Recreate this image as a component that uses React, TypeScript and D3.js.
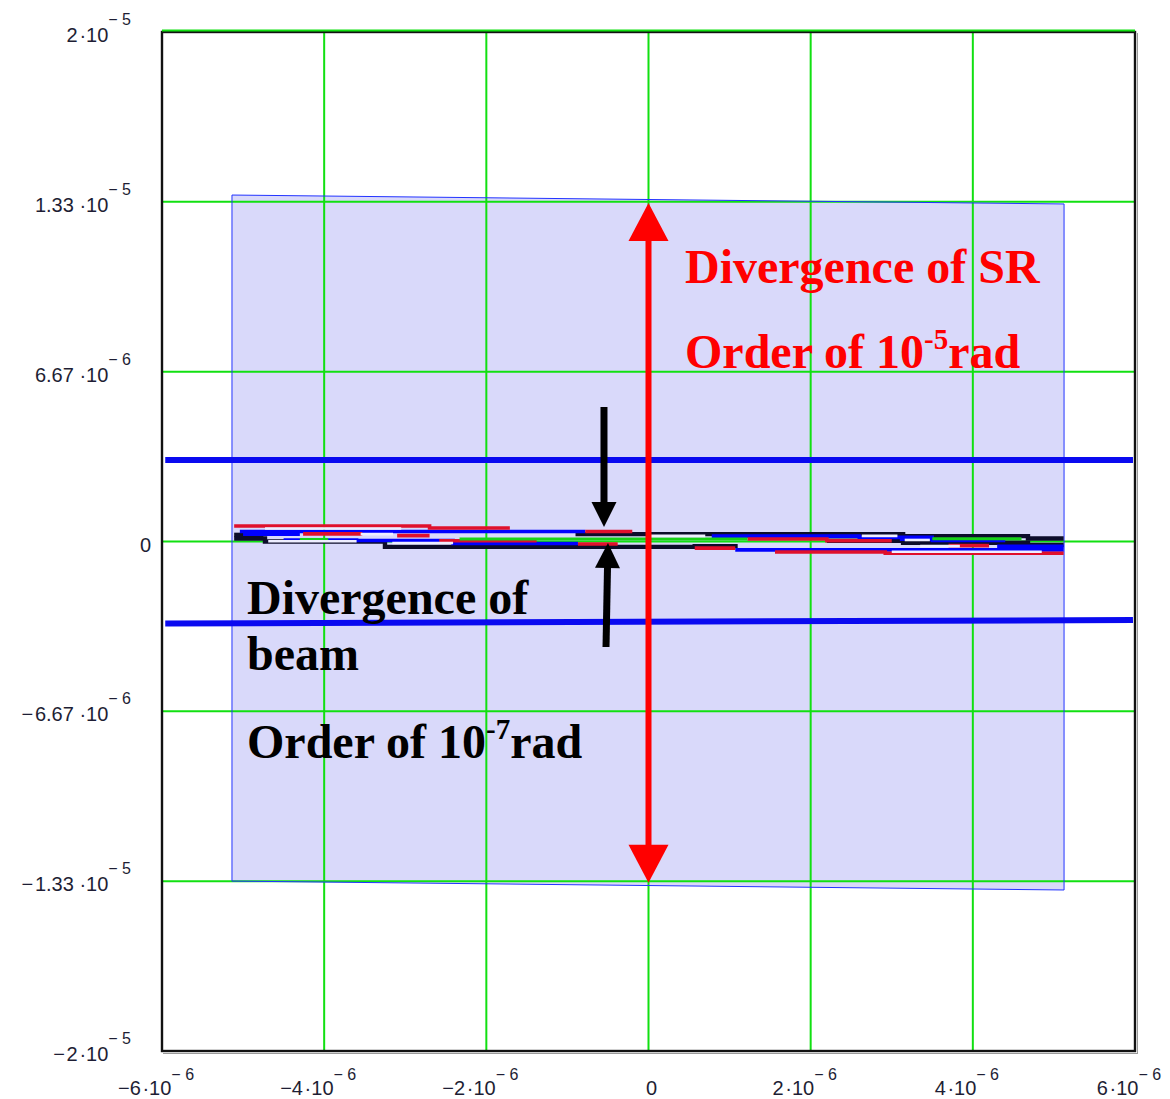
import React from "react";
import * as d3 from "d3";

// Axis ticks and their labels (mantissa · 10^exponent)
const xTicks = [-6e-6, -4e-6, -2e-6, 0, 2e-6, 4e-6, 6e-6];
const xTickMantissa = ["\u22126\u200a·10", "\u22124\u200a·10", "\u22122\u200a·10", "0", "2\u200a·10", "4\u200a·10", "6\u200a·10"];
const xTickExponent = ["\u2212 6", "\u2212 6", "\u2212 6", "", "\u2212 6", "\u2212 6", "\u2212 6"];

const yTicks = [2e-5, 1.3333e-5, 6.6667e-6, 0, -6.6667e-6, -1.3333e-5, -2e-5];
const yTickMantissa = ["2\u200a·10", "1.33 ·10", "6.67 ·10", "0", "\u2212\u200a6.67 ·10", "\u2212\u200a1.33 ·10", "\u2212\u200a2\u200a·10"];
const yTickExponent = ["\u2212 5", "\u2212 5", "\u2212 6", "", "\u2212 6", "\u2212 5", "\u2212 5"];

// Radiation cone (SR divergence) outline, rad
const coneX = [-5.137e-6, 5.125e-6, 5.125e-6, -5.137e-6];
const coneY = [13.6e-6, 13.25e-6, -13.68e-6, -13.33e-6];

// Beam envelope lines: [x0, y0, x1, y1], rad
const beamLimits = [
  [-5.96e-6, 3.2e-6, 5.975e-6, 3.2e-6],
  [-5.96e-6, -3.22e-6, 5.975e-6, -3.08e-6],
];

// Beam trajectories: x in µrad, y in 1e-7 rad, stepped
const blackTraces = [
  [[-5.11, 1.2], [-4.73, 0.0], [-3.25, -2.1], [0.57, -1.8], [1.1, -1.8]],
  [[-0.9, 2.9], [3.14, 2.1], [4.68, 1.2], [5.12, 1.2]],
  [[2.2, 0.3], [3.14, -0.5], [4.68, -1.4], [5.12, -1.4]],
  [[-5.11, 2.6], [-4.75, 2.6]],
];
const blueTraces = [
  [[-5.04, 3.9], [-0.78, 3.9]],
  [[-5.0, 2.9], [-4.3, 2.9]],
  [[-4.5, 0.6], [-3.6, 0.4], [-2.41, -0.8], [-0.87, -0.8]],
  [[0.78, 2.1], [2.6, 1.6], [3.5, 0.4], [4.4, 0.4]],
  [[1.07, -3.3], [5.12, -3.3]],
  [[4.3, -1.9], [5.12, -1.9]],
  [[3.1, 0.9], [3.5, 0.9]],
];
const redTraces = [
  [[-5.11, 6.1], [-2.7, 5.3], [-1.71, 5.3]],
  [[-0.78, 3.9], [-0.2, 3.9]],
  [[-4.26, 3.0], [-3.53, 3.0]],
  [[-3.1, 2.3], [-2.7, 2.3]],
  [[-2.58, 0.3], [-1.38, 0.3]],
  [[1.22, 1.0], [2.2, 0.3], [3.0, 0.3]],
  [[0.57, -2.6], [1.07, -2.6]],
  [[1.56, -4.1], [2.92, -4.6], [5.12, -4.6]],
  [[3.7, -1.6], [4.2, -1.6]],
  [[-0.87, -1.0], [-0.38, -1.0]],
];
const greenTraces = [
  [[-2.33, 1.0], [1.22, 1.0]],
  [[3.5, 1.1], [4.6, 1.1]],
  [[-4.3, 0.8], [-3.95, 0.8]],
];
const lightTraces = [
  [[-4.73, 5.1], [-3.05, 5.1]],
  [[-4.69, 0.1], [-3.6, 0.1]],
  [[-3.55, 2.9], [-3.15, 2.9]],
  [[-3.16, -0.6], [-2.41, -0.6]],
  [[0.02, 2.2], [0.7, 2.2]],
  [[2.63, 2.2], [3.07, 2.2]],
  [[3.16, 0.6], [3.47, 0.6]],
  [[3.0, -4.0], [4.85, -4.0]],
  [[3.35, -1.8], [3.84, -1.8]],
];

// Divergence markers
const srArrow = { x: 0, yTop: 13.29e-6, yBottom: -13.4e-6 };
const beamArrowDown = { x0: -0.549e-6, y0: 5.28e-6, x1: -0.549e-6, y1: 0.57e-6 };
const beamArrowUp = { x0: -0.524e-6, y0: -4.14e-6, x1: -0.5e-6, y1: -0.06e-6 };

const W = 1170;
const H = 1099;
const plot = { left: 162, right: 1135, top: 32, bottom: 1051 };

const xs = d3.scaleLinear().domain([-6e-6, 6e-6]).range([plot.left, plot.right]);
const ys = d3.scaleLinear().domain([-2e-5, 2e-5]).range([plot.bottom, plot.top]);

const traceLine = d3
  .line<number[]>()
  .x((p) => xs(p[0] * 1e-6))
  .y((p) => ys(p[1] * 1e-7))
  .curve(d3.curveStepAfter);

function arrowHead(x1: number, y1: number, x2: number, y2: number, len: number, half: number) {
  const dx = x2 - x1;
  const dy = y2 - y1;
  const d = Math.hypot(dx, dy);
  const ux = dx / d;
  const uy = dy / d;
  const bx = x2 - ux * len;
  const by = y2 - uy * len;
  const px = -uy * half;
  const py = ux * half;
  return {
    points: `${x2},${y2} ${bx + px},${by + py} ${bx - px},${by - py}`,
    bx: x2 - ux * (len - 2),
    by: y2 - uy * (len - 2),
  };
}

const GREEN = "#11e011";
const TICK_FONT = "'Liberation Sans', Arial, sans-serif";
const TEXT_FONT = "'Liberation Serif', 'Times New Roman', serif";

export default function App() {
  const conePts = coneX.map((x, i) => `${xs(x)},${ys(coneY[i])}`).join(" ");

  const srTop = ys(srArrow.yTop);
  const srBot = ys(srArrow.yBottom);
  const srX = xs(srArrow.x);
  const headTop = arrowHead(srX, srBot, srX, srTop, 38, 20);
  const headBot = arrowHead(srX, srTop, srX, srBot, 38, 20);

  const bd = beamArrowDown;
  const bdHead = arrowHead(xs(bd.x0), ys(bd.y0), xs(bd.x1), ys(bd.y1), 25, 12.5);
  const bu = beamArrowUp;
  const buHead = arrowHead(xs(bu.x0), ys(bu.y0), xs(bu.x1), ys(bu.y1), 25, 12.5);

  const traceGroups: { data: number[][][]; stroke: string; width: number }[] = [
    { data: blackTraces, stroke: "#0c0c2a", width: 4.4 },
    { data: blueTraces, stroke: "#0000ff", width: 3.6 },
    { data: redTraces, stroke: "#e0102c", width: 3.6 },
    { data: greenTraces, stroke: "#18d018", width: 3 },
    { data: lightTraces, stroke: "#eeeeff", width: 2.6 },
  ];

  return (
    <svg
      width={W}
      height={H}
      viewBox={`0 0 ${W} ${H}`}
      style={{ position: "absolute", left: 0, top: 0, background: "#ffffff" }}
    >
      <rect x={0} y={0} width={W} height={H} fill="#ffffff" />

      {/* SR cone */}
      <polygon points={conePts} fill="#d9d9fa" stroke="none" />

      {/* grid */}
      {xTicks.slice(1, -1).map((t, i) => (
        <line key={`gx${i}`} x1={xs(t)} x2={xs(t)} y1={plot.top} y2={plot.bottom} stroke={GREEN} strokeWidth={2} />
      ))}
      {yTicks.slice(1, -1).map((t, i) => (
        <line key={`gy${i}`} x1={plot.left} x2={plot.right} y1={ys(t)} y2={ys(t)} stroke={GREEN} strokeWidth={2} />
      ))}

      <polygon points={conePts} fill="none" stroke="#2233ff" strokeWidth={1} />

      {/* frame */}
      <line x1={plot.left + 1} x2={plot.right + 2} y1={plot.bottom + 2.5} y2={plot.bottom + 2.5} stroke="#9a9a9a" strokeWidth={1} />
      <line x1={plot.right + 2.5} x2={plot.right + 2.5} y1={plot.top + 1} y2={plot.bottom + 3} stroke="#9a9a9a" strokeWidth={1} />
      <rect
        x={plot.left}
        y={plot.top}
        width={plot.right - plot.left}
        height={plot.bottom - plot.top}
        fill="none"
        stroke="#111111"
        strokeWidth={2.4}
      />
      <line x1={plot.left} x2={plot.right} y1={plot.top - 1.5} y2={plot.top - 1.5} stroke={GREEN} strokeWidth={2} />

      {/* beam envelope */}
      {beamLimits.map((b, i) => (
        <line key={`bl${i}`} x1={xs(b[0])} y1={ys(b[1])} x2={xs(b[2])} y2={ys(b[3])} stroke="#0a0af0" strokeWidth={6} />
      ))}

      {/* trajectories */}
      {traceGroups.map((g, gi) =>
        g.data.map((pts, i) => (
          <path key={`t${gi}-${i}`} d={traceLine(pts) ?? ""} fill="none" stroke={g.stroke} strokeWidth={g.width} />
        ))
      )}

      {/* SR divergence arrow */}
      <line x1={srX} x2={srX} y1={headTop.by} y2={headBot.by} stroke="#ff0000" strokeWidth={6} />
      <polygon points={headTop.points} fill="#ff0000" />
      <polygon points={headBot.points} fill="#ff0000" />

      {/* beam divergence arrows */}
      <line x1={xs(bd.x0)} y1={ys(bd.y0)} x2={bdHead.bx} y2={bdHead.by} stroke="#000000" strokeWidth={7} />
      <polygon points={bdHead.points} fill="#000000" />
      <line x1={xs(bu.x0)} y1={ys(bu.y0)} x2={buHead.bx} y2={buHead.by} stroke="#000000" strokeWidth={7} />
      <polygon points={buHead.points} fill="#000000" />

      {/* annotations */}
      <g fontFamily={TEXT_FONT} fontWeight="bold" fontSize={48}>
        <text x={685} y={283} fill="#ff0000">Divergence of SR</text>
        <text x={685} y={368} fill="#ff0000">
          Order of 10<tspan fontSize={29} dy={-19}>-5</tspan>
          <tspan dy={19}>rad</tspan>
        </text>
        <text x={247} y={614} fill="#000000">Divergence of</text>
        <text x={247} y={670} fill="#000000">beam</text>
        <text x={247} y={758} fill="#000000">
          Order of 10<tspan fontSize={29} dy={-19}>-7</tspan>
          <tspan dy={19}>rad</tspan>
        </text>
      </g>

      {/* y tick labels */}
      <g fontFamily={TICK_FONT} fill="#1e1e34">
        {yTicks.map((t, i) =>
          yTickExponent[i] === "" ? (
            <text key={`yl${i}`} x={151} y={ys(t) + 10} fontSize={20} textAnchor="end">
              {yTickMantissa[i]}
            </text>
          ) : (
            <text key={`yl${i}`} x={131} y={ys(t) + 10} fontSize={20} textAnchor="end">
              {yTickMantissa[i]}
              <tspan fontSize={16} dy={-17}>{yTickExponent[i]}</tspan>
            </text>
          )
        )}
      </g>

      {/* x tick labels */}
      <g fontFamily={TICK_FONT} fill="#1e1e34">
        {xTicks.map((t, i) =>
          xTickExponent[i] === "" ? (
            <text key={`xl${i}`} x={xs(t) + 3} y={1095} fontSize={20} textAnchor="middle">
              {xTickMantissa[i]}
            </text>
          ) : (
            <text key={`xl${i}`} x={xs(t) - 6} y={1095} fontSize={20} textAnchor="middle">
              {xTickMantissa[i]}
              <tspan fontSize={16} dy={-15}>{xTickExponent[i]}</tspan>
            </text>
          )
        )}
      </g>
    </svg>
  );
}
